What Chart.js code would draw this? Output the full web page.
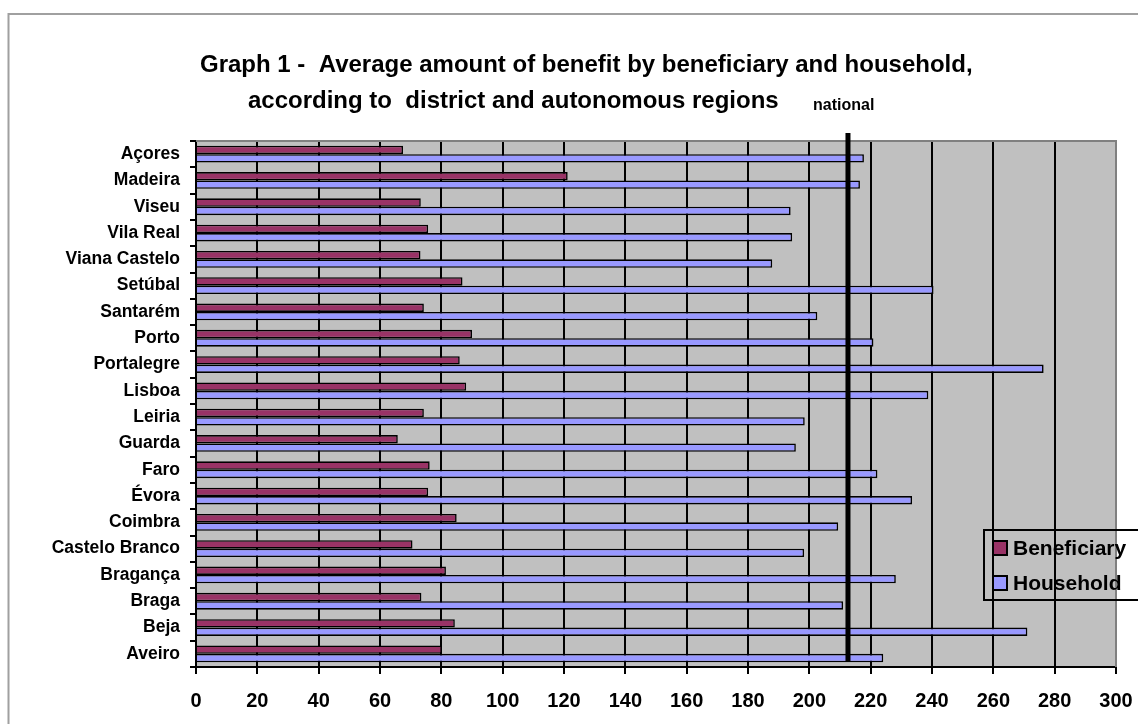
<!DOCTYPE html>
<html>
<head>
<meta charset="utf-8">
<script src="https://cdn.jsdelivr.net/npm/chart.js@4.4.1/dist/chart.umd.min.js"></script>
<style>
  html, body { margin: 0; padding: 0; background: #ffffff; }
  #wrap { width: 1138px; height: 724px; position: relative; }
</style>
</head>
<body>
<div id="wrap"><canvas id="c" width="1138" height="724"></canvas></div>
<script>
// ---- data (top to bottom as shown) ----
const categories = ["Açores", "Madeira", "Viseu", "Vila Real", "Viana Castelo", "Setúbal", "Santarém", "Porto", "Portalegre", "Lisboa", "Leiria", "Guarda", "Faro", "Évora", "Coimbra", "Castelo Branco", "Bragança", "Braga", "Beja", "Aveiro"];
const beneficiary = [67.5, 121.2, 73.3, 75.7, 73.2, 86.9, 74.3, 90.0, 86.0, 88.1, 74.3, 65.8, 76.2, 75.7, 85.0, 70.6, 81.5, 73.5, 84.4, 80.2];
const household = [217.8, 216.5, 193.9, 194.4, 187.9, 240.5, 202.6, 220.9, 276.4, 238.8, 198.5, 195.6, 222.2, 233.5, 209.4, 198.3, 228.2, 211.0, 271.1, 224.1];
const nationalValue = [212.6];
const seriesNames = ["Beneficiary", "Household"];
const titleLines = ["Graph 1 -  Average amount of benefit by beneficiary and household,", "according to  district and autonomous regions"];
const nationalLabel = ["national"];
const xTicks = [0, 20, 40, 60, 80, 100, 120, 140, 160, 180, 200, 220, 240, 260, 280, 300];

const FONT = '"Liberation Sans", Arial, sans-serif';

const decor = {
  id: 'decor',
  beforeDraw(chart) {
    const ctx = chart.ctx, a = chart.chartArea;
    ctx.save();
    ctx.fillStyle = '#ffffff';
    ctx.fillRect(0, 0, chart.width, chart.height);
    // outer frame
    ctx.strokeStyle = '#a0a0a0';
    ctx.lineWidth = 2;
    ctx.strokeRect(8.5, 14, chart.width + 20, chart.height + 20);
    // plot background
    ctx.fillStyle = '#c0c0c0';
    ctx.fillRect(a.left, a.top, a.right - a.left, a.bottom - a.top);
    ctx.restore();
  },
  beforeDatasetsDraw(chart) {
    const ctx = chart.ctx, a = chart.chartArea;
    ctx.save();
    ctx.strokeStyle = '#808080';
    ctx.lineWidth = 2;
    ctx.beginPath();
    ctx.moveTo(a.left, a.top);
    ctx.lineTo(a.right, a.top);
    ctx.lineTo(a.right, a.bottom);
    ctx.stroke();
    ctx.restore();
  },
  afterDatasetsDraw(chart) {
    const ctx = chart.ctx, a = chart.chartArea;
    const xs = chart.scales.x;
    const px = xs.getPixelForValue(nationalValue[0]);
    ctx.save();
    ctx.strokeStyle = '#000000';
    ctx.lineWidth = 5;
    ctx.beginPath();
    ctx.moveTo(px, a.top - 8);
    ctx.lineTo(px, a.bottom - 6);
    ctx.stroke();
    ctx.restore();
  },
  afterDraw(chart) {
    const ctx = chart.ctx;
    ctx.save();
    ctx.fillStyle = '#000000';
    ctx.textBaseline = 'alphabetic';
    ctx.textAlign = 'left';
    ctx.font = 'bold 24px ' + FONT;
    ctx.fillText(titleLines[0], 200, 72);
    ctx.fillText(titleLines[1], 248, 108);
    ctx.font = 'bold 16px ' + FONT;
    ctx.fillText(nationalLabel[0], 813, 110);
    // legend
    const lx = 984, ly = 530, lw = 200, lh = 70;
    ctx.strokeStyle = '#000000';
    ctx.lineWidth = 2;
    ctx.strokeRect(lx, ly, lw, lh);
    const ds = chart.data.datasets;
    const rows = [548, 583];
    ctx.font = 'bold 21px ' + FONT;
    ctx.textBaseline = 'middle';
    ds.forEach((d, i) => {
      const cy = rows[i];
      ctx.fillStyle = d.backgroundColor;
      ctx.fillRect(993, cy - 7, 14, 14);
      ctx.lineWidth = 2;
      ctx.strokeStyle = '#000';
      ctx.strokeRect(993, cy - 7, 14, 14);
      ctx.fillStyle = '#000';
      ctx.fillText(d.label, 1013, cy + 1);
    });
    ctx.restore();
  }
};

new Chart(document.getElementById('c'), {
  type: 'bar',
  data: {
    labels: categories,
    datasets: [
      { label: seriesNames[0], data: beneficiary, backgroundColor: '#993366', borderColor: '#000000', borderWidth: 1.6, borderSkipped: 'start' },
      { label: seriesNames[1], data: household, backgroundColor: '#9999ff', borderColor: '#000000', borderWidth: 1.6, borderSkipped: 'start' }
    ]
  },
  options: {
    indexAxis: 'y',
    responsive: false,
    devicePixelRatio: 1,
    animation: false,
    events: [],
    layout: { padding: { left: 0, top: 141, right: 22, bottom: 0 } },
    datasets: { bar: { categoryPercentage: 0.64, barPercentage: 1.0 } },
    plugins: { legend: { display: false }, title: { display: false }, tooltip: { enabled: false } },
    scales: {
      x: {
        type: 'linear',
        min: 0, max: 300,
        afterBuildTicks(scale) { scale.ticks = xTicks.map(v => ({ value: v })); },
        afterFit(scale) { scale.height = 57; scale.paddingLeft = 0; scale.paddingRight = 0; },
        grid: { color: '#000000', lineWidth: 2, drawTicks: true, tickLength: 7, tickColor: '#000000' },
        border: { display: true, color: '#000000', width: 2 },
        ticks: { color: '#000000', font: { family: FONT, size: 20, weight: 'bold' }, padding: 15, maxRotation: 0, autoSkip: false }
      },
      y: {
        type: 'category',
        afterFit(scale) { scale.width = 196; scale.paddingTop = 0; scale.paddingBottom = 0; },
        grid: { display: true, drawOnChartArea: false, drawTicks: true, tickLength: 6, color: '#000000', lineWidth: 2, offset: true },
        border: { display: true, color: '#000000', width: 2 },
        ticks: { color: '#000000', font: { family: FONT, size: 17.5, weight: 'bold' }, padding: 10, autoSkip: false }
      }
    }
  },
  plugins: [decor]
});
</script>
</body>
</html>
